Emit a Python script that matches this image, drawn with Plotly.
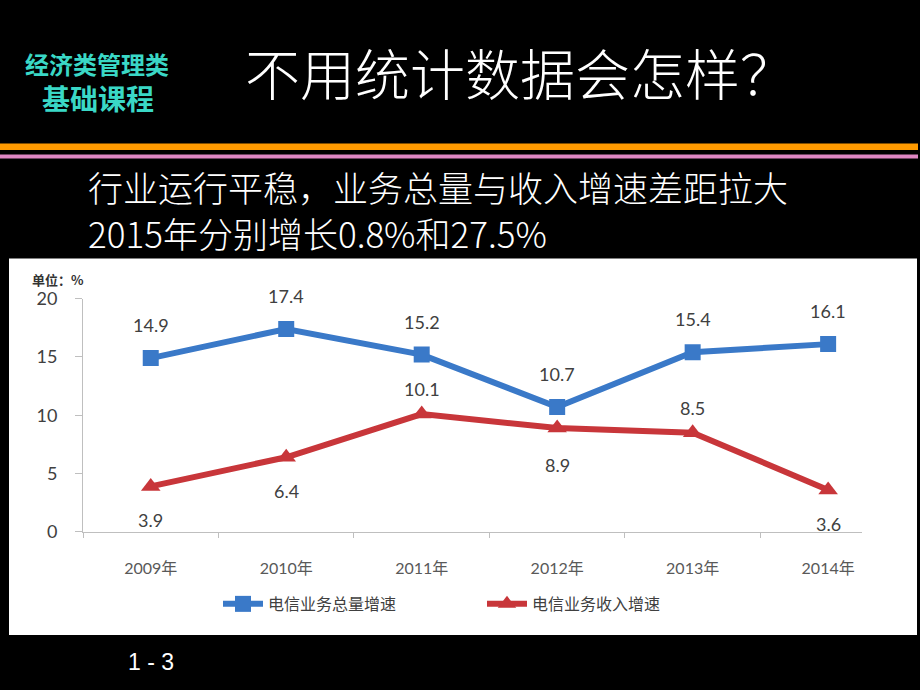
import plotly.graph_objects as go

# ---- data ----
years = ["2009年", "2010年", "2011年", "2012年", "2013年", "2014年"]
total_volume_growth = [14.9, 17.4, 15.2, 10.7, 15.4, 16.1]
revenue_growth = [3.9, 6.4, 10.1, 8.9, 8.5, 3.6]
series_names = ["电信业务总量增速", "电信业务收入增速"]
y_ticks = [0, 5, 10, 15, 20]

# label placement (style)
rev_label_side = ["below", "below", "above", "below", "above", "below"]

W, H = 920, 690
# vertical compensation for the capture pipeline
VOFF, VSC = 12.7, 0.967
def px(x):
    return x / W
def py(y):
    yd = (y - VOFF) / VSC
    return 1 - yd / H

BLUE = "#3A79C8"
RED = "#C8363A"
AXIS = "#BFBFBF"
TXT = "#404040"
NUMFONT = "Lato, 'Noto Sans CJK SC', sans-serif"
CJK = "'Noto Sans CJK SC', sans-serif"

fig = go.Figure()
fig.add_trace(go.Scatter(
    x=years, y=total_volume_growth, name=series_names[0],
    mode="lines+markers",
    line=dict(color=BLUE, width=6),
    marker=dict(symbol="square", size=16, color=BLUE),
))
fig.add_trace(go.Scatter(
    x=years, y=revenue_growth, name=series_names[1],
    mode="lines+markers",
    line=dict(color=RED, width=6),
    marker=dict(symbol="triangle-up", size=17, color=RED),
))

annotations = []
for yr, v in zip(years, total_volume_growth):
    annotations.append(dict(x=yr, y=v, xref="x", yref="y", text=f"{v:.1f}",
                            showarrow=False, yshift=33,
                            font=dict(family=NUMFONT, size=18, color=TXT)))
for yr, v, side in zip(years, revenue_growth, rev_label_side):
    shift = 25 if side == "above" else -34
    if yr == "2012年":
        shift = -37
    annotations.append(dict(x=yr, y=v, xref="x", yref="y", text=f"{v:.1f}",
                            showarrow=False, yshift=shift,
                            font=dict(family=NUMFONT, size=18, color=TXT)))

# slide texts
annotations += [
    dict(x=px(97), y=py(64), xref="paper", yref="paper", text="<b>经济类管理类</b>",
         showarrow=False, xanchor="center", yanchor="middle",
         font=dict(family=CJK, size=24, color="#3AD8C6")),
    dict(x=px(98), y=py(99), xref="paper", yref="paper", text="<b>基础课程</b>",
         showarrow=False, xanchor="center", yanchor="middle",
         font=dict(family=CJK, size=28, color="#3AD8C6")),
    dict(x=px(520), y=py(72), xref="paper", yref="paper", text="不用统计数据会怎样？",
         showarrow=False, xanchor="center", yanchor="middle",
         font=dict(family=CJK, size=55, color="white", weight=300)),
    dict(x=px(86), y=py(210), xref="paper", yref="paper",
         text="行业运行平稳，业务总量与收入增速差距拉大<br>2015年分别增长0.8%和27.5%",
         showarrow=False, xanchor="left", yanchor="middle", align="left",
         font=dict(family=CJK, size=35, color="white", weight=300)),
    dict(x=px(30), y=py(280), xref="paper", yref="paper", text="<b>单位：%</b>",
         showarrow=False, xanchor="left", yanchor="middle",
         font=dict(family=CJK, size=13, color="#333333")),
    dict(x=px(126), y=py(662), xref="paper", yref="paper", text="1 - 3",
         showarrow=False, xanchor="left", yanchor="middle",
         font=dict(family="Liberation Sans, Arial, sans-serif", size=23, color="white")),
]

shapes = [
    dict(type="rect", xref="paper", yref="paper", x0=px(9), x1=px(917), y0=py(635), y1=py(259),
         fillcolor="white", line=dict(width=0), layer="below"),
    dict(type="rect", xref="paper", yref="paper", x0=0, x1=px(918), y0=py(150.5), y1=py(144),
         fillcolor="#FF9A00", line=dict(width=0), layer="below"),
    dict(type="rect", xref="paper", yref="paper", x0=0, x1=px(918), y0=py(159), y1=py(155),
         fillcolor="#DE86C2", line=dict(width=0), layer="below"),
]

fig.update_layout(
    width=W, height=H,
    margin=dict(l=0, r=0, t=0, b=0),
    paper_bgcolor="black",
    plot_bgcolor="rgba(0,0,0,0)",
    showlegend=True,
    legend=dict(orientation="h", x=px(218), y=py(587), xanchor="left", yanchor="top",
                bgcolor="rgba(0,0,0,0)",
                font=dict(family=CJK, size=16, color=TXT),
                entrywidth=209, entrywidthmode="pixels", itemwidth=40),
    xaxis=dict(domain=[px(83), px(862)], type="category", range=[-0.5, 5.25],
               showline=True, linecolor=AXIS, linewidth=1,
               ticks="outside", tickson="boundaries", ticklen=5, tickcolor=AXIS,
               showgrid=False, zeroline=False, ticklabelstandoff=22,
               tickfont=dict(family=NUMFONT, size=16, color="#595959")),
    yaxis=dict(domain=[py(532), py(299)], range=[0, 20], tickvals=y_ticks,
               showline=True, linecolor=AXIS, linewidth=1,
               ticks="outside", ticklen=7, tickcolor=AXIS,
               showgrid=False, zeroline=False, ticklabelstandoff=14,
               tickfont=dict(family=NUMFONT, size=18, color=TXT)),
    annotations=annotations,
    shapes=shapes,
)

post = (
    "var h=document.documentElement,b=document.body;"
    "h.style.margin='0';h.style.padding='0';h.style.height='690px';h.style.overflow='hidden';"
    "b.style.margin='0';b.style.padding='0';b.style.height='690px';b.style.overflow='hidden';"
    "b.style.background='black';"
    "var d=document.getElementById('{plot_id}');"
    "d.style.position='fixed';d.style.top='0px';d.style.left='0px';"
)
fig.write_html("out.html", config={"displayModeBar": False}, post_script=post)
